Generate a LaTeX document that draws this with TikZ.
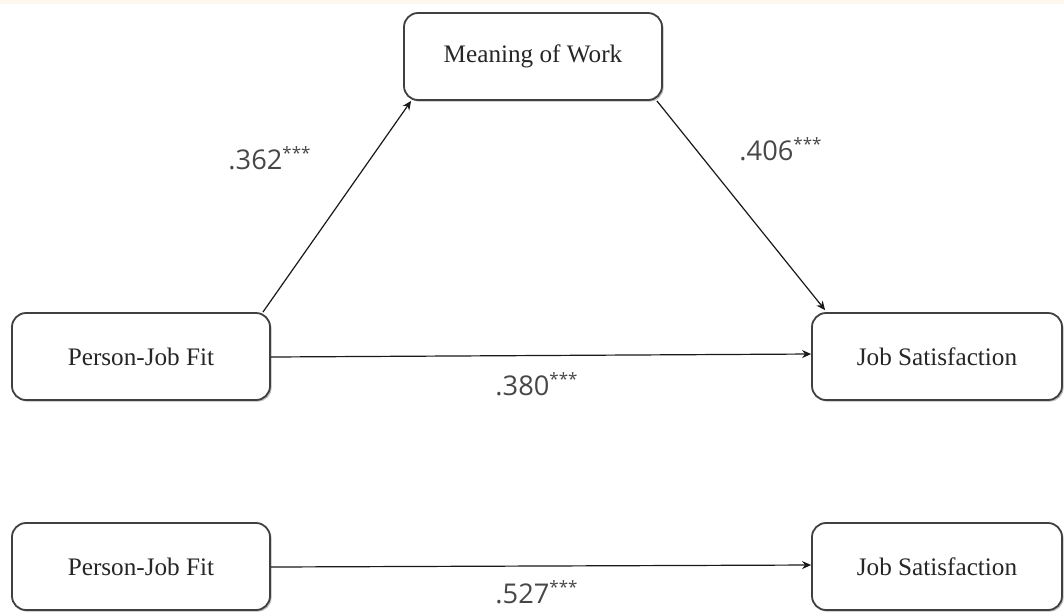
\documentclass[tikz,border=0pt]{standalone}
\usepackage{fontspec}
\setmainfont{Liberation Serif}
\newfontfamily\labelfont{Open Sans}
\usetikzlibrary{arrows.meta,shadows,calc}

\tikzset{
  varbox/.style={draw=black!75, line width=0.9pt, rounded corners=7pt, fill=white,
    minimum height=43.5pt, font=\fontsize{12.6}{14}\selectfont, text=black!85,
    drop shadow={shadow xshift=0.8pt, shadow yshift=-0.8pt, opacity=0.45, fill=black!60}},
  path/.style={draw=black!90, line width=0.6pt, -{Stealth[length=4.5pt,width=4pt]}},
  coef/.style={font=\labelfont\fontsize{13.6}{15}\selectfont, text=black!72}
}
\newcommand{\sig}{\textsuperscript{\fontsize{8.5}{9}\selectfont ***}}

\begin{document}
\begin{tikzpicture}[x=0.5pt, y=-0.5pt]
  \useasboundingbox (0,0) rectangle (1064,612);
  \fill[white] (0,0) rectangle (1064,612);
  \fill[yellow!10!orange!6] (0,0) rectangle (1064,4);

  % mediation model
  \node[varbox, minimum width=129pt] (mow) at (533,56.5) {Meaning of Work};
  \node[varbox, minimum width=129pt] (pjf) at (141,356.5) {Person-Job Fit};
  \node[varbox, minimum width=125pt] (js) at (937,356.5) {Job Satisfaction};

  \draw[path] ([xshift=-4pt]pjf.north east) -- ([xshift=4pt]mow.south west);
  \draw[path] ([xshift=-3pt]mow.south east) -- ([xshift=7pt,yshift=1pt]js.north west);
  \draw[path] ([yshift=-0.25pt]pjf.east) -- ([yshift=1.25pt]js.west);

  \node[coef] (a) at (270,158) {.362\sig};
  \node[coef] (b) at (781,149) {.406\sig};
  \node[coef] (c) at (537,384) {.380\sig};

  % total effect
  \node[varbox, minimum width=129pt] (pjf2) at (141,566.5) {Person-Job Fit};
  \node[varbox, minimum width=125pt] (js2) at (937,566.5) {Job Satisfaction};

  \draw[path] ([yshift=-0.25pt]pjf2.east) -- ([yshift=0.75pt]js2.west);
  \node[coef] (d) at (537,592) {.527\sig};
\end{tikzpicture}
\end{document}
